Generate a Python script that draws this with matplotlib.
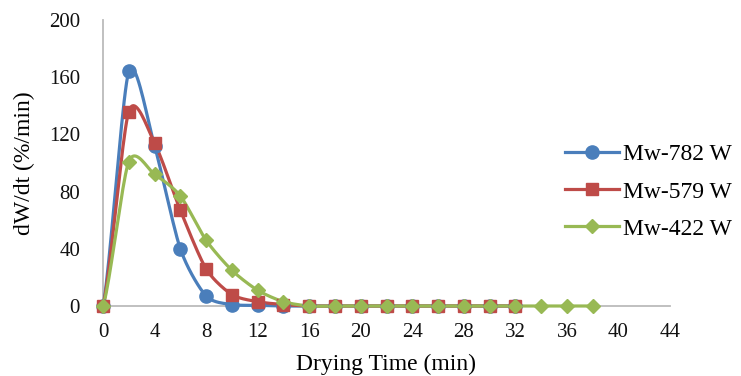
import numpy as np
import matplotlib
matplotlib.use('Agg')
import matplotlib.pyplot as plt

# drying rate data (dW/dt, %/min)
time_782 = [0, 2, 4, 6, 8, 10, 12, 14, 16, 18, 20, 22, 24, 26, 28, 30, 32]
rate_782 = [0, 164, 112, 40, 7, 1, 0.5, 0, 0, 0, 0, 0, 0, 0, 0, 0, 0]
time_579 = [0, 2, 4, 6, 8, 10, 12, 14, 16, 18, 20, 22, 24, 26, 28, 30, 32]
rate_579 = [0, 136, 114, 67, 26, 8, 3, 1, 0, 0, 0, 0, 0, 0, 0, 0, 0]
time_422 = [0, 2, 4, 6, 8, 10, 12, 14, 16, 18, 20, 22, 24, 26, 28, 30, 32, 34, 36, 38]
rate_422 = [0, 101, 92, 77, 46, 25, 11, 3, 0, 0, 0, 0, 0, 0, 0, 0, 0, 0, 0, 0]
labels = ['Mw-782 W', 'Mw-579 W', 'Mw-422 W']
x_ticks = list(range(0, 45, 4))
y_ticks = [0, 40, 80, 120, 160, 200]


def smooth(xs, ys, n=20, k=0.38):
    # cardinal spline, similar to Excel's "smoothed line"
    xs = np.asarray(xs, float)
    ys = np.asarray(ys, float)
    px = np.concatenate([[2 * xs[0] - xs[1]], xs, [2 * xs[-1] - xs[-2]]])
    py = np.concatenate([[ys[0]], ys, [ys[-1]]])
    t = np.linspace(0, 1, n, endpoint=False)
    h00 = 2 * t ** 3 - 3 * t ** 2 + 1
    h10 = t ** 3 - 2 * t ** 2 + t
    h01 = -2 * t ** 3 + 3 * t ** 2
    h11 = t ** 3 - t ** 2
    ox, oy = [], []
    for i in range(1, len(px) - 2):
        for p, out in ((px, ox), (py, oy)):
            m1 = k * (p[i + 1] - p[i - 1])
            m2 = k * (p[i + 2] - p[i])
            out.extend(h00 * p[i] + h10 * m1 + h01 * p[i + 1] + h11 * m2)
    ox.append(xs[-1])
    oy.append(ys[-1])
    return ox, oy


plt.rcParams['font.family'] = ['Liberation Serif', 'DejaVu Serif']

fig = plt.figure(figsize=(7.41, 3.76), dpi=100)
ax = fig.add_axes([103 / 741, 70 / 376, 567 / 741, 286 / 376])

series = [
    (time_782, rate_782, '#4A7EBB', 'o', 9.5),
    (time_579, rate_579, '#BE4B48', 's', 9.0),
    (time_422, rate_422, '#98B954', 'D', 7.0),
]
for (xs, ys, color, marker, ms), label in zip(series, labels):
    sx, sy = smooth(xs, ys)
    ax.plot(sx, sy, color=color, lw=2.3, zorder=2, clip_on=False)
    ax.plot(xs, ys, ls='none', marker=marker, ms=ms, color=color,
            zorder=3, clip_on=False)
    ax.plot([], [], color=color, lw=2.3, marker=marker, ms=ms, label=label)

ax.set_xlim(0, 44)
ax.set_ylim(0, 200)
ax.set_xticks(x_ticks)
ax.set_yticks(y_ticks)
ax.tick_params(length=0, labelsize=15, colors='#111111')
ax.tick_params(axis='y', pad=16.5)
ax.tick_params(axis='x', pad=12)
for side in ('top', 'right'):
    ax.spines[side].set_visible(False)
for side in ('left', 'bottom'):
    ax.spines[side].set_color('#BBBBBB')
    ax.spines[side].set_linewidth(1.3)
    ax.spines[side].set_zorder(1)

ax.set_xlabel('Drying Time (min)', fontsize=17, labelpad=9)
ax.set_ylabel('dW/dt (%/min)', fontsize=17, labelpad=10)

fig.legend(loc='upper left', bbox_to_anchor=(556 / 741, 1 - 134.5 / 376),
           frameon=False, fontsize=17, handlelength=2.25, handletextpad=0.2,
           labelspacing=0.66, borderaxespad=0)

fig.savefig('out.png', dpi=100)
